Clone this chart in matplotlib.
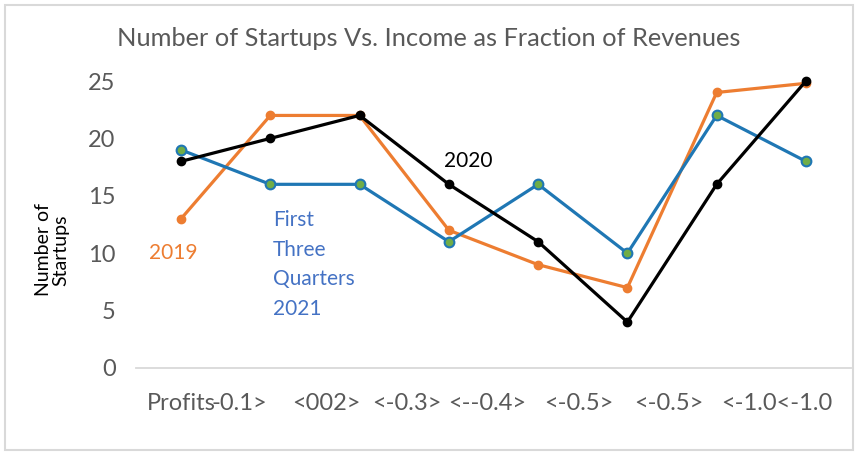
import matplotlib
matplotlib.use("Agg")
import matplotlib.pyplot as plt
from matplotlib.patches import Rectangle

# ---- data ----
categories = ["Profits", "0 to -0.1", "-0.1 to -0.2", "-0.2 to -0.3",
              "-0.3 to -0.4", "-0.4 to -0.5", "-0.5 to -1.0", "<-1.0"]
startups_2019 = [13, 22, 22, 12, 9, 7, 24, 24.8]
startups_2020 = [18, 20, 22, 16, 11, 4, 16, 25]
startups_2021 = [19, 16, 16, 11, 16, 10, 22, 18]
yticks = [0, 5, 10, 15, 20, 25]
# garbled tick text as it appears in the reference
xtext = ["Profits", "-0.1>", "<002>", "<-0.3>", "<--0.4>", "<-0.5>", "<-0.5>", "<-1.0<-1.0"]

plt.rcParams['font.family'] = ['Lato', 'DejaVu Sans']

fig = plt.figure(figsize=(8.58, 4.58), dpi=100)
fig.patches.append(Rectangle((5/858, 1-450/458), 848/858, 445/458,
                             transform=fig.transFigure, fill=False,
                             edgecolor='#D9D9D9', linewidth=1.5))

ax = fig.add_axes([136.4/858, 1-368/458, 714.2/858, 287/458])
x = list(range(len(categories)))

orange = '#ED7D31'
blue = '#1F77B4'
green = '#70AD47'

ax.plot(x, startups_2019, color=orange, lw=2.3, marker='o', ms=6,
        mfc=orange, mec=orange, clip_on=False, zorder=3)
ax.plot(x, startups_2021, color=blue, lw=2.3, marker='o', ms=7,
        mfc=green, mec=blue, mew=1.5, clip_on=False, zorder=4)
ax.plot(x, startups_2020, color='black', lw=2.3, marker='o', ms=6,
        mfc='black', mec='black', clip_on=False, zorder=5)

ax.set_xlim(-0.5, len(categories) - 0.5)
ax.set_ylim(0, 25)
ax.set_yticks(yticks)
ax.set_yticklabels([str(v) for v in yticks], fontsize=17, color='#595959')
ax.tick_params(axis='y', length=0, pad=15)
ax.set_xticks([])
for s in ['top', 'right', 'left']:
    ax.spines[s].set_visible(False)
ax.spines['bottom'].set_color('#D9D9D9')
ax.spines['bottom'].set_linewidth(1.3)

# x tick text positions (left edges, in category units)
left_edges = [-0.38, 0.34, 1.24, 2.14, 2.99, 4.07, 5.07, 6.05]
for p, t in zip(left_edges, xtext):
    ax.text(p, -0.125, t, transform=ax.get_xaxis_transform(), ha='left',
            va='center', fontsize=17, color='#595959')

fig.text(429/858, 1-38/458, "Number of Startups Vs. Income as Fraction of Revenues",
         ha='center', va='center', fontsize=18.3, color='#595959')
fig.text(52/858, 1-250/458, "Number of\nStartups", rotation=90, ha='center',
         va='center', fontsize=14, color='black', linespacing=1.0)

ax.text(-0.09, 10, "2019", color=orange, fontsize=15, ha='center', va='center')
ax.text(2.95, 18.0, "2020", color='black', fontsize=15, ha='left', va='center')
ax.text(1.03, 9.0, "First\nThree\nQuarters\n2021", color='#4472C4', fontsize=15,
        ha='left', va='center', linespacing=1.6)

fig.savefig("out.png", dpi=100)
